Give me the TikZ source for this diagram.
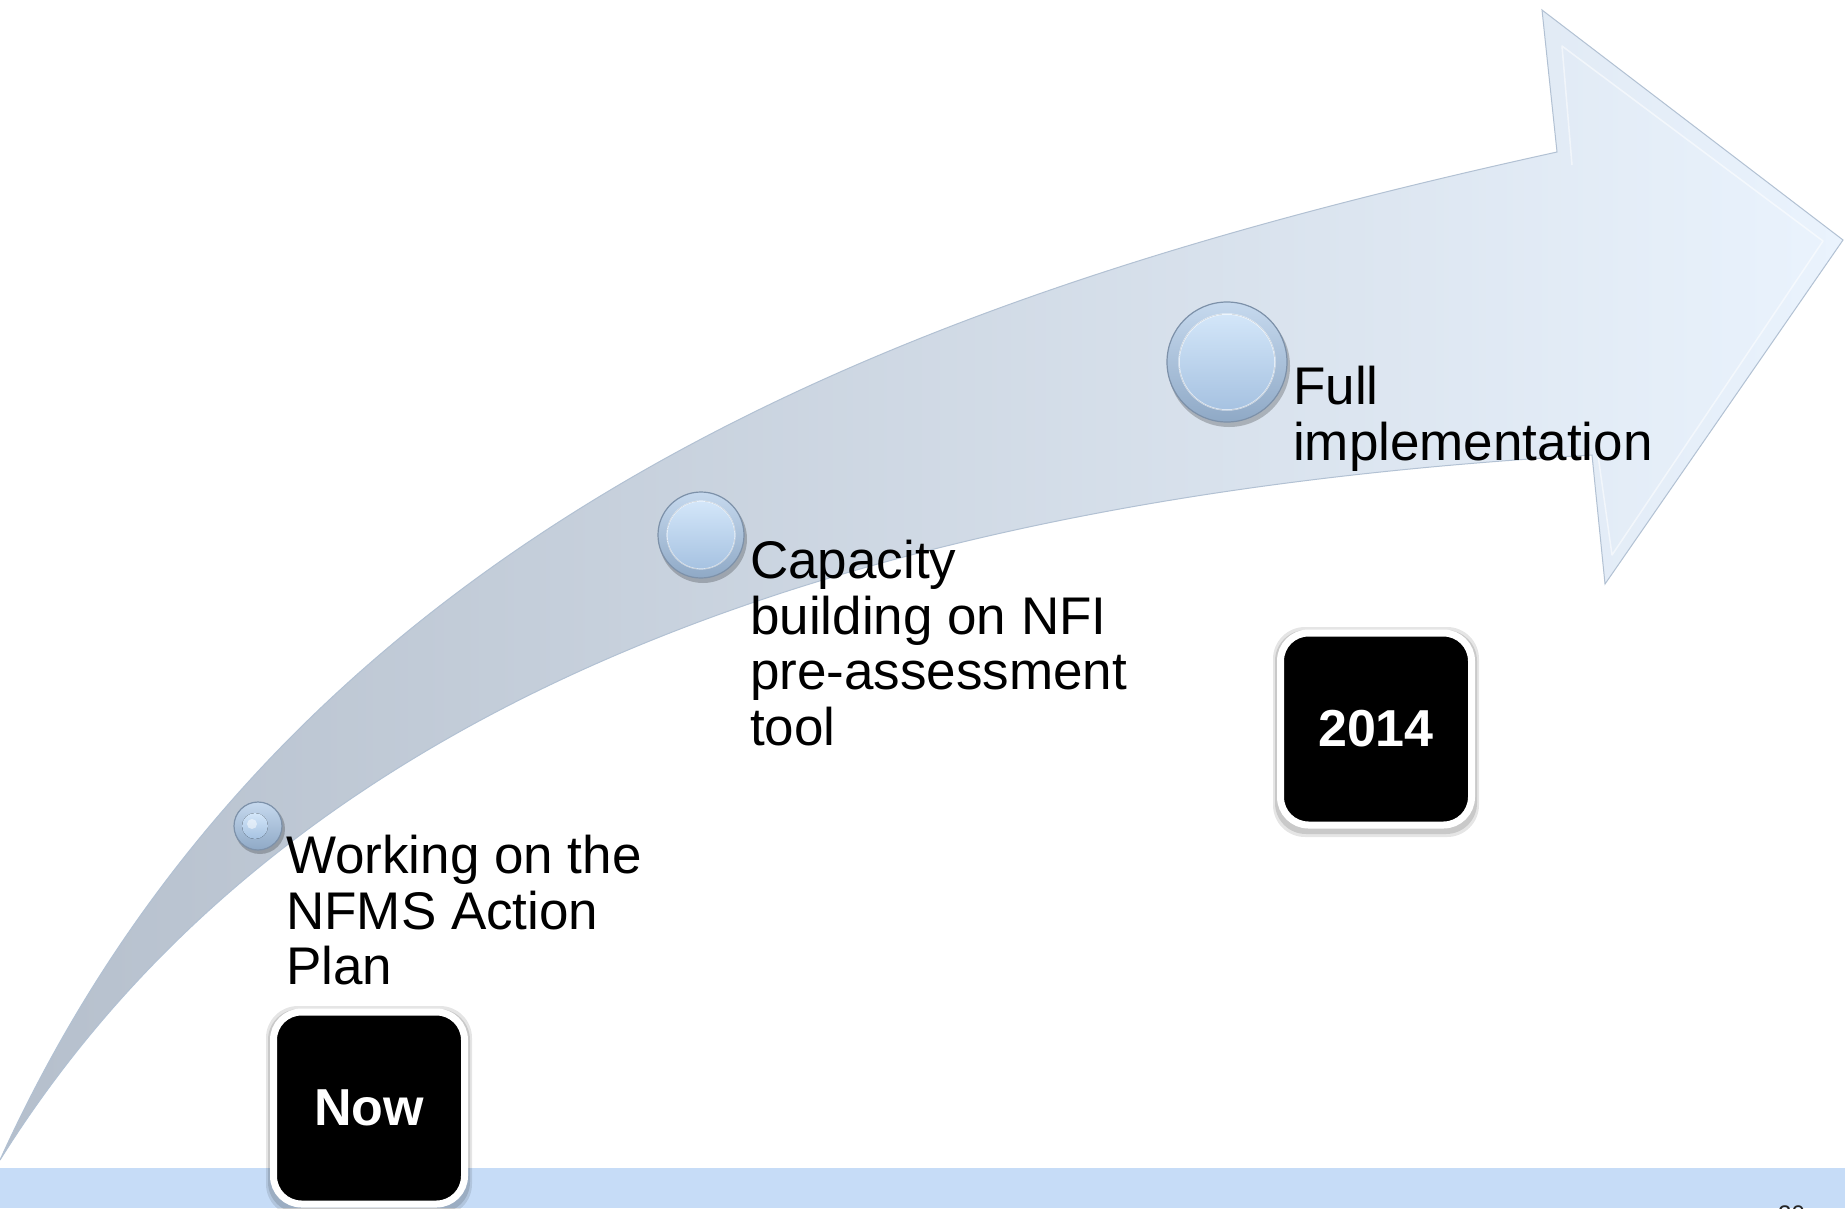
\documentclass[tikz,border=0pt]{standalone}
\usepackage{fontspec}
\setmainfont{Liberation Sans}
\definecolor{arrL}{HTML}{B5BFCC}
\definecolor{arrM}{HTML}{DAE4F0}
\definecolor{arrR}{HTML}{EAF3FD}
\definecolor{arrEdge}{HTML}{B2C1D3}
\definecolor{band}{HTML}{C6DCF7}
\definecolor{ballTop}{HTML}{C6D9EE}
\definecolor{ballBot}{HTML}{8FA9C6}
\definecolor{ballEdge}{HTML}{7D91A9}
\definecolor{diskTop}{HTML}{D3E6F9}
\definecolor{diskBot}{HTML}{A6C2E1}
\begin{document}
\begin{tikzpicture}[x=1pt,y=-1pt,
  steplabel/.style={anchor=north west, inner sep=0, align=left, font=\fontsize{53}{55.5}\selectfont},
  yearbox/.style={rounded corners=28, fill=black, draw=white, line width=7, minimum width=191, minimum height=192, inner sep=0, text=white, font=\fontsize{52}{60}\selectfont\bfseries},
  boxshadow/.style={rounded corners=32, fill=black, opacity=.10},
  boxshadowb/.style={rounded corners=31, fill=black, opacity=.12},
  ball/.style={circle, inner sep=0, draw=ballEdge, line width=1.2, top color=ballTop, bottom color=ballBot},
  disk/.style={top color=diskTop, bottom color=diskBot},
  ballshadow/.style={fill=black, opacity=.22}]
\useasboundingbox (0,0) rectangle (1845,1208);
\fill[white] (0,0) rectangle (1845,1208);
% bottom band
\fill[band] (0,1168) rectangle (1845,1208);
% curved arrow
\path[left color=arrL, middle color=arrM, right color=arrR, draw=arrEdge, line width=1]
  (0,1160) .. controls (300,500) and (957,284) .. (1557,152)
  -- (1542,10) -- (1843,240) -- (1605,584) -- (1592,455)
  .. controls (892,495) and (300,680) .. (0,1160) -- cycle;
% bevel of the arrow head
\draw[white, opacity=.55, line width=1.5, line join=round]
  (1572,165) -- (1562,46) -- (1823,241) -- (1612,555) -- (1597,448);
% balls
\fill[ballshadow] (260,829) circle (25);
\node[ball, minimum size=48] (b1) at (258,826) {};
\fill[disk] ([xshift=-3pt]b1.center) circle (13);
\fill[white, opacity=.5] ([xshift=-6pt,yshift=2pt]b1.center) circle (5);

\fill[ballshadow] (703,539) circle (44);
\node[ball, minimum size=86] (b2) at (701,535) {};
\fill[disk] (b2.center) circle (34);
\draw[white, opacity=.6, line width=1.2] (b2.center) circle (34);

\fill[ballshadow] (1229,366) circle (61);
\node[ball, minimum size=120] (b3) at (1227,362) {};
\fill[disk] (b3.center) circle (48);
\draw[white, opacity=.6, line width=1.5] (b3.center) circle (48);
% labels
\node[steplabel] (t1) at (286,835) {Working on the\\NFMS Action\\Plan};
\node[steplabel] (t2) at (750,540) {Capacity\\building on NFI\\pre-assessment\\tool};
\node[steplabel] (t3) at (1293,366) {Full\\implementation};
% year boxes with soft shadows
\fill[boxshadow] (266,1006) rectangle (472,1216);
\fill[boxshadowb] (268,1009) rectangle (470,1213);
\node[yearbox] (now) at (369,1108) {Now};
\fill[boxshadow] (1273,627) rectangle (1479,837);
\fill[boxshadowb] (1275,630) rectangle (1477,834);
\node[yearbox] (y2014) at (1376,729) {2014};
% page number (cut off at the bottom edge, as in the reference)
\begin{scope}
\clip (0,0) rectangle (1845,1208);
\node[anchor=base west, inner sep=0, font=\fontsize{24}{28}\selectfont, text=black!85] (pg) at (1778,1222) {20};
\end{scope}
\end{tikzpicture}
\end{document}
